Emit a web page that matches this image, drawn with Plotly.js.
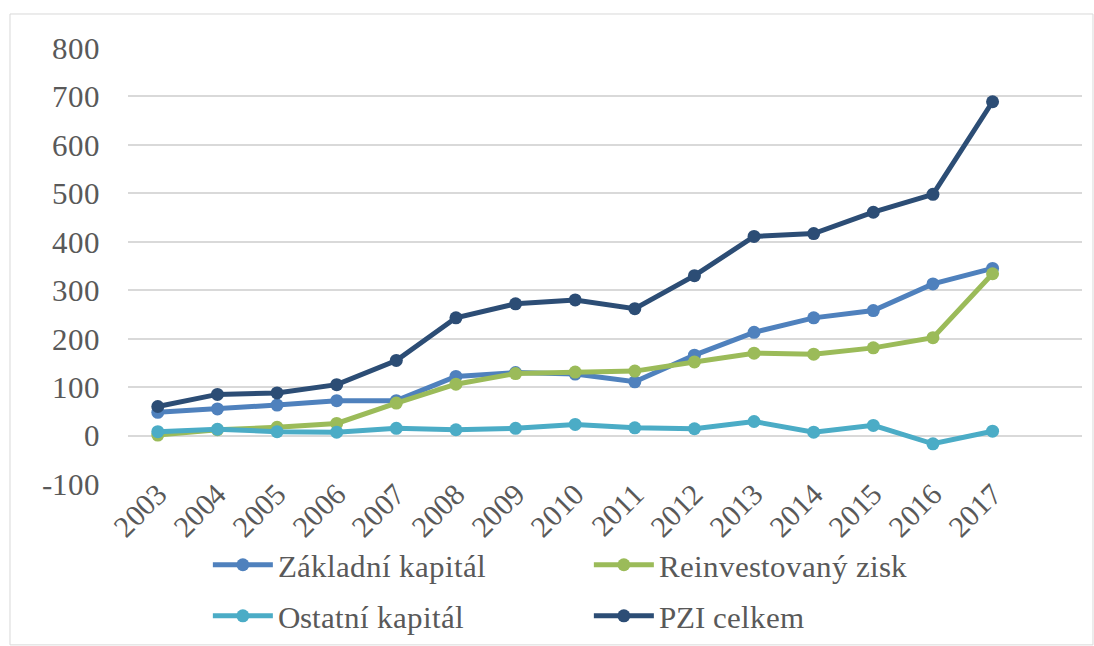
<!DOCTYPE html>
<html>
<head>
<meta charset="utf-8">
<script src="https://cdn.plot.ly/plotly-3.0.1.min.js"></script>
<style>
@font-face {
  font-family: 'LibSerifLocal';
  src: local('Liberation Serif'), local('LiberationSerif'), local('Liberation Serif Regular'), local('LiberationSerif-Regular');
}
html, body { margin: 0; padding: 0; background: #fff; font-family: 'LibSerifLocal', 'Liberation Serif', serif; }
</style>
</head>
<body>
<div id="c"></div>
<script>
const years = ["2003","2004","2005","2006","2007","2008","2009","2010","2011","2012","2013","2014","2015","2016","2017"];
const zakladniKapital = [48, 55, 63, 72, 72, 122, 130, 127, 111, 166, 213, 243, 258, 313, 345];
const reinvestovanyZisk = [1, 12, 17, 25, 67, 106, 128, 131, 133, 152, 170, 168, 181, 202, 334];
const ostatniKapital = [8, 13, 8, 7, 15, 12, 15, 23, 16, 14, 29, 7, 21, -17, 9];
const pziCelkem = [60, 85, 88, 105, 155, 243, 272, 280, 262, 330, 411, 417, 461, 498, 689];
const seriesNames = ["Základní kapitál", "Reinvestovaný zisk", "Ostatní kapitál", "PZI celkem"];
const seriesColors = ["#4f81bd", "#9bbb59", "#4bacc6", "#2c4d75"];
const seriesLegends = ["legend", "legend", "legend2", "legend2"];
const seriesValues = [zakladniKapital, reinvestovanyZisk, ostatniKapital, pziCelkem];
const yTickVals = [-100, 0, 100, 200, 300, 400, 500, 600, 700, 800];
const yTickText = ["-100", "0", "100", "200", "300", "400", "500", "600", "700", "800"];

const fam = "LibSerifLocal, Liberation Serif, Times New Roman, serif";

function buildTraces() {
  return seriesValues.map((vals, i) => ({
    x: years,
    y: vals,
    name: seriesNames[i],
    legend: seriesLegends[i],
    type: "scatter",
    mode: "lines+markers",
    line: {color: seriesColors[i], width: 5},
    marker: {color: seriesColors[i], size: 13}
  }));
}

function buildLayout() {
  const legendBase = {
    orientation: "h",
    xref: "container",
    yref: "container",
    x: 0.19,
    xanchor: "left",
    yanchor: "top",
    entrywidth: 306,
    itemwidth: 60,
    font: {family: fam, size: 31, color: "#595959"}
  };
  return {
    width: 1094,
    height: 646,
    margin: {l: 128, r: 12, t: 48, b: 162},
    font: {family: fam, size: 31, color: "#595959"},
    showlegend: true,
    xaxis: {
      type: "category",
      range: [-0.5, 15.5],
      tickangle: -45,
      anchor: "free",
      position: 0.033,
      showgrid: false,
      zeroline: false,
      tickfont: {family: fam, size: 30, color: "#595959"}
    },
    yaxis: {
      range: [-100, 800],
      tickmode: "array",
      tickvals: yTickVals,
      ticktext: yTickText,
      gridcolor: "#d9d9d9",
      gridwidth: 1.5,
      zeroline: false,
      ticklabelstandoff: 27,
      tickfont: {family: fam, size: 31, color: "#595959"}
    },
    shapes: [{
      type: "rect", xref: "paper", yref: "paper",
      x0: -0.1237, x1: 1.0115, y0: -0.369, y1: 1.078,
      line: {color: "#d9d9d9", width: 1}, fillcolor: "rgba(0,0,0,0)", layer: "below"
    }],
    legend: Object.assign({}, legendBase, {y: 0.167}),
    legend2: Object.assign({}, legendBase, {y: 0.088})
  };
}

Plotly.newPlot("c", buildTraces(), buildLayout(), {displayModeBar: false});

if (document.fonts && document.fonts.load) {
  document.fonts.load("31px LibSerifLocal", "Základní 2003").then(function () {
    Plotly.react("c", buildTraces(), buildLayout(), {displayModeBar: false});
  }).catch(function () {});
}
</script>
</body>
</html>
